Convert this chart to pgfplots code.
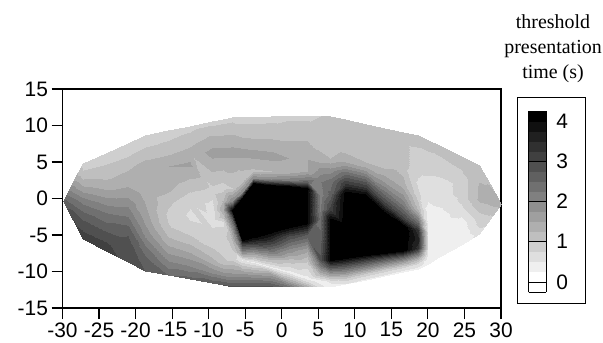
\documentclass[border=0pt]{standalone}
\usepackage{fontspec}
\setmainfont{Liberation Sans}
\newfontfamily\seriffont{Liberation Serif}
\usepackage{pgfplots}
\pgfplotsset{compat=1.18}
\begin{document}
\begin{tikzpicture}[x=1bp,y=1bp]
\useasboundingbox (0,0) rectangle (603,342);
\begin{axis}[
  at={(62.5bp,34bp)}, anchor=south west,
  scale only axis, width=438.5bp, height=219bp,
  xmin=-30, xmax=30, ymin=-15, ymax=15,
  xtick={-30,-25,...,30}, ytick={-15,-10,...,15},
  tick align=outside, xtick pos=left, ytick pos=left,
  major tick length=11bp,
  axis line style={line width=1.3bp},
  every tick/.style={black, line width=1.1bp},
  tick label style={font=\fontsize{21}{23}\selectfont},
  /pgf/number format/assume math mode=true,
  colormap={thr}{gray(0cm)=(1); gray(1cm)=(1); gray(2cm)=(0.9375); gray(3cm)=(0.875);
    gray(4cm)=(0.8125); gray(5cm)=(0.75); gray(6cm)=(0.6875); gray(7cm)=(0.625);
    gray(8cm)=(0.5625); gray(9cm)=(0.5); gray(10cm)=(0.4375); gray(11cm)=(0.375);
    gray(12cm)=(0.3125); gray(13cm)=(0.25); gray(14cm)=(0.1875); gray(15cm)=(0.125);
    gray(16cm)=(0.0625); gray(17cm)=(0); gray(18cm)=(0)},
  colormap access=piecewise constant,
  point meta min=-0.25, point meta max=4.25,
  colorbar,
  colorbar style={
    at={(1.0632,0.073)}, anchor=south west,
    scale only axis, width=17.7bp, height=181bp,
    ytick={0,1,2,3,4},
    yticklabel pos=right,
    ymajorgrids, major grid style={black, line width=0.7bp},
    ytick style={draw=none},
    axis line style={line width=0.8bp},
    /pgf/number format/assume math mode=true,
    yticklabel style={font=\fontsize{21}{23}\selectfont, xshift=6.5bp},
  },
]
\addplot[surf, shader=interp, mesh/cols=13, point meta=\thisrow{z}] table[x=x, y=y] {
x y z
-30 -0.3 2.6
-30 -0.3 2.6
-30 -0.3 2.6
-30 -0.3 2.6
-30 -0.3 2.6
-30 -0.3 2.6
-30 -0.3 2.6
-30 -0.3 2.6
-30 -0.3 2.6
-30 -0.3 2.6
-30 -0.3 2.6
-30 -0.3 2.6
-30 -0.3 2.6

-28.5 -2.91 3.0
-28.5 -2.465 2.93
-28.5 -2.02 2.85
-28.5 -1.575 2.75
-28.5 -1.13 2.62
-28.5 -0.685 2.48
-28.5 -0.24 2.35
-28.5 0.205 2.22
-28.5 0.65 2.08
-28.5 1.095 1.95
-28.5 1.54 1.82
-28.5 1.985 1.67
-28.5 2.43 1.5

-27.2 -5.6 3.1
-27.2 -4.73 3.03
-27.2 -3.87 2.92
-27.2 -3.0 2.75
-27.2 -2.13 2.58
-27.2 -1.27 2.38
-27.2 -0.4 2.15
-27.2 0.47 1.88
-27.2 1.33 1.62
-27.2 2.2 1.35
-27.2 3.07 1.15
-27.2 3.93 1.0
-27.2 4.8 0.9

-24 -7.22 3.05
-24 -6.10 3.02
-24 -4.97 2.87
-24 -3.85 2.6
-24 -2.72 2.4
-24 -1.60 2.17
-24 -0.47 1.9
-24 0.65 1.63
-24 1.77 1.4
-24 2.90 1.2
-24 4.02 1.07
-24 5.15 0.95
-24 6.27 0.85

-21 -8.74 2.95
-21 -7.37 2.92
-21 -6.01 2.83
-21 -4.64 2.7
-21 -3.28 2.4
-21 -1.91 2.13
-21 -0.55 1.9
-21 0.82 1.63
-21 2.19 1.43
-21 3.55 1.3
-21 4.92 1.1
-21 6.28 0.95
-21 7.65 0.85

-18.7 -9.9 2.75
-18.7 -8.35 2.58
-18.7 -6.8 2.33
-18.7 -5.25 2.0
-18.7 -3.7 1.77
-18.7 -2.15 1.6
-18.7 -0.6 1.5
-18.7 0.95 1.43
-18.7 2.5 1.43
-18.7 4.05 1.5
-18.7 5.6 1.2
-18.7 7.15 0.98
-18.7 8.7 0.85

-15.5 -10.48 2.5
-15.5 -8.83 2.07
-15.5 -7.17 1.67
-15.5 -5.52 1.3
-15.5 -3.87 1.03
-15.5 -2.21 0.95
-15.5 -0.56 1.05
-15.5 1.09 1.28
-15.5 2.75 1.43
-15.5 4.40 1.5
-15.5 6.05 1.23
-15.5 7.71 1.02
-15.5 9.36 0.85

-12.5 -11.03 2.6
-12.5 -9.28 2.0
-12.5 -7.53 1.52
-12.5 -5.78 1.15
-12.5 -4.03 0.82
-12.5 -2.28 0.7
-12.5 -0.53 0.8
-12.5 1.22 1.03
-12.5 2.98 1.28
-12.5 4.73 1.55
-12.5 6.48 1.32
-12.5 8.23 1.1
-12.5 9.98 0.9

-9.5 -11.57 2.7
-9.5 -10.2 2.0
-9.5 -8.8 1.45
-9.5 -7.4 1.1
-9.5 -6.0 0.9
-9.5 -4.5 0.8
-9.5 -3.0 0.65
-9.5 -1.6 0.6
-9.5 -0.6 0.7
-9.5 1.0 0.9
-9.5 6.2 1.6
-9.5 8.4 1.3
-9.5 10.6 0.9

-8 -11.85 2.8
-8 -10.3 1.85
-8 -8.7 1.1
-8 -7.0 0.9
-8 -5.0 0.85
-8 -3.2 0.7
-8 -2.4 1.2
-8 -1.6 1.5
-8 -0.5 1.3
-8 1.5 0.9
-8 6.4 1.6
-8 8.7 1.25
-8 10.91 0.9

-6.8 -12.06 2.85
-6.8 -10.2 1.75
-6.8 -8.3 0.9
-6.8 -7.0 1.0
-6.8 -5.6 1.3
-6.8 -4.3 1.7
-6.8 -3.0 2.5
-6.8 -1.6 4.1
-6.8 -0.3 2.0
-6.8 1.5 1.0
-6.8 6.4 1.6
-6.8 8.8 1.25
-6.8 11.16 0.9

-5.5 -12.1 2.9
-5.5 -10.2 1.7
-5.5 -8.4 0.5
-5.5 -7.6 1.6
-5.5 -6.9 2.45
-5.5 -6.3 3.2
-5.5 -5.7 4.1
-5.5 0.1 4.1
-5.5 0.9 2.0
-5.5 2.5 1.05
-5.5 6.3 1.6
-5.5 8.7 1.2
-5.5 11.21 0.9

-4 -12.1 2.9
-4 -10.5 1.8
-4 -8.65 0.45
-4 -7.6 1.55
-4 -6.6 2.6
-4 -5.9 3.4
-4 -5.3 4.1
-4 2.1 4.1
-4 2.8 2.0
-4 3.8 1.2
-4 6.1 1.6
-4 8.5 1.2
-4 11.22 0.9

-1.5 -12.1 2.9
-1.5 -10.4 1.6
-1.5 -9.4 0.45
-1.5 -8.3 1.3
-1.5 -7.0 2.4
-1.5 -5.8 3.3
-1.5 -4.62 4.1
-1.5 1.9 4.1
-1.5 2.7 2.0
-1.5 3.8 1.25
-1.5 5.8 1.6
-1.5 8.5 1.2
-1.5 11.24 0.9

1 -12.1 2.4
1 -11.1 1.4
1 -10.1 0.4
1 -8.6 1.1
1 -7.0 1.9
1 -5.2 3.0
1 -3.95 4.1
1 1.7 4.1
1 2.6 2.2
1 3.8 1.3
1 5.5 1.5
1 8.4 1.2
1 11.26 0.95

3.5 -12.1 1.5
3.5 -11.5 0.8
3.5 -10.85 0.4
3.5 -9.0 0.9
3.5 -7.0 1.6
3.5 -5.0 2.7
3.5 -3.3 4.1
3.5 1.5 4.1
3.5 2.5 2.3
3.5 3.8 1.5
3.5 5.4 1.5
3.5 8.4 1.2
3.5 11.28 0.95

5.2 -12.1 0.7
5.2 -11.3 0.35
5.2 -10.4 1.3
5.2 -9.3 2.2
5.2 -8.49 2.8
5.2 -2.8 2.4
5.2 -1.4 2.2
5.2 0.5 2.1
5.2 2.5 2.2
5.2 4.0 1.8
5.2 5.6 1.3
5.2 8.4 1.15
5.2 11.29 1.0

6.6 -12.1 0.3
6.6 -11.3 0.6
6.6 -10.4 1.7
6.6 -9.3 3.0
6.6 -8.49 4.1
6.6 -2.8 4.1
6.6 -1.4 3.1
6.6 0.5 2.6
6.6 2.5 2.3
6.6 4.0 1.8
6.6 5.6 1.25
6.6 8.4 1.15
6.6 11.3 1.05

8.6 -11.7 0.5
8.6 -11.0 0.9
8.6 -10.0 1.9
8.6 -9.0 3.1
8.6 -8.2 4.1
8.6 -3.6 4.5
8.6 0.9 4.1
8.6 2.0 3.3
8.6 3.3 2.5
8.6 4.5 1.8
8.6 5.4 1.3
8.6 8.0 1.15
8.6 10.87 1.1

11.5 -11.13 0.4
11.5 -10.4 0.9
11.5 -9.5 1.9
11.5 -8.6 3.0
11.5 -7.79 4.1
11.5 -3.6 4.5
11.5 0.5 4.1
11.5 1.6 3.2
11.5 2.8 2.4
11.5 4.0 1.6
11.5 5.0 1.25
11.5 7.6 1.1
11.5 10.25 1.1

14 -10.63 0.4
14 -9.8 0.9
14 -9.0 1.9
14 -8.2 3.0
14 -7.43 4.1
14 -4.6 4.5
14 -1.9 4.1
14 -0.7 3.2
14 0.8 2.4
14 2.4 1.7
14 4.2 1.25
14 7.0 1.1
14 9.71 1.1

16.6 -10.12 0.35
16.6 -9.4 0.8
16.6 -8.7 1.6
16.6 -7.9 2.8
16.6 -7.06 4.3
16.6 -5.6 4.5
16.6 -3.8 4.3
16.6 -2.7 3.1
16.6 -1.3 2.4
16.6 0.3 1.8
16.6 2.0 1.35
16.6 4.5 1.1
16.6 9.15 1.1

18.7 -9.7 0.35
18.7 -9.0 0.7
18.7 -8.3 1.3
18.7 -7.6 2.2
18.7 -6.8 3.4
18.7 -5.6 3.6
18.7 -4.3 3.3
18.7 -3.0 2.2
18.7 -1.5 1.2
18.7 0.3 0.85
18.7 2.0 0.7
18.7 4.5 0.85
18.7 8.7 1.1

20 -8.95 0.3
20 -8.3 0.35
20 -7.7 0.4
20 -7.0 0.45
20 -6.3 0.5
20 -5.4 0.5
20 -4.4 0.45
20 -3.3 0.4
20 -2.0 0.35
20 -0.5 0.5
20 1.5 0.6
20 4.2 0.85
20 8.06 1.1

21.5 -8.08 0.3
21.5 -7.3 0.3
21.5 -6.5 0.3
21.5 -5.7 0.3
21.5 -4.9 0.3
21.5 -3.9 0.3
21.5 -2.8 0.33
21.5 -1.6 0.45
21.5 -0.4 0.6
21.5 1.0 0.6
21.5 2.5 0.7
21.5 4.5 0.9
21.5 7.32 1.1

24.5 -6.35 0.3
24.5 -5.34 0.3
24.5 -4.32 0.32
24.5 -3.31 0.35
24.5 -2.29 0.55
24.5 -1.28 0.7
24.5 -0.26 0.8
24.5 0.76 0.83
24.5 1.77 0.85
24.5 2.79 0.85
24.5 3.80 0.98
24.5 4.82 1.07
24.5 5.83 1.1

27 -4.9 0.6
27 -4.11 0.73
27 -3.32 0.83
27 -2.53 0.9
27 -1.73 1.03
27 -0.94 1.17
27 -0.15 1.3
27 0.64 1.3
27 1.43 1.28
27 2.23 1.25
27 3.02 1.15
27 3.81 1.1
27 4.6 1.1

28.5 -2.8 0.9
28.5 -2.40 0.97
28.5 -2.01 1.05
28.5 -1.61 1.15
28.5 -1.22 1.22
28.5 -0.82 1.27
28.5 -0.43 1.3
28.5 -0.03 1.33
28.5 0.37 1.35
28.5 0.76 1.35
28.5 1.16 1.32
28.5 1.55 1.27
28.5 1.95 1.2

30 -0.7 1.35
30 -0.7 1.35
30 -0.7 1.35
30 -0.7 1.35
30 -0.7 1.35
30 -0.7 1.35
30 -0.7 1.35
30 -0.7 1.35
30 -0.7 1.35
30 -0.7 1.35
30 -0.7 1.35
30 -0.7 1.35
30 -0.7 1.35
};
\end{axis}
\draw[line width=0.9bp] (517,39) rectangle (585,245);
\node[font=\seriffont\fontsize{20}{25}\selectfont, align=center, anchor=north, inner sep=0pt]
  at (553,327.5) {threshold\\presentation\\time (s)};
\end{tikzpicture}
\end{document}
